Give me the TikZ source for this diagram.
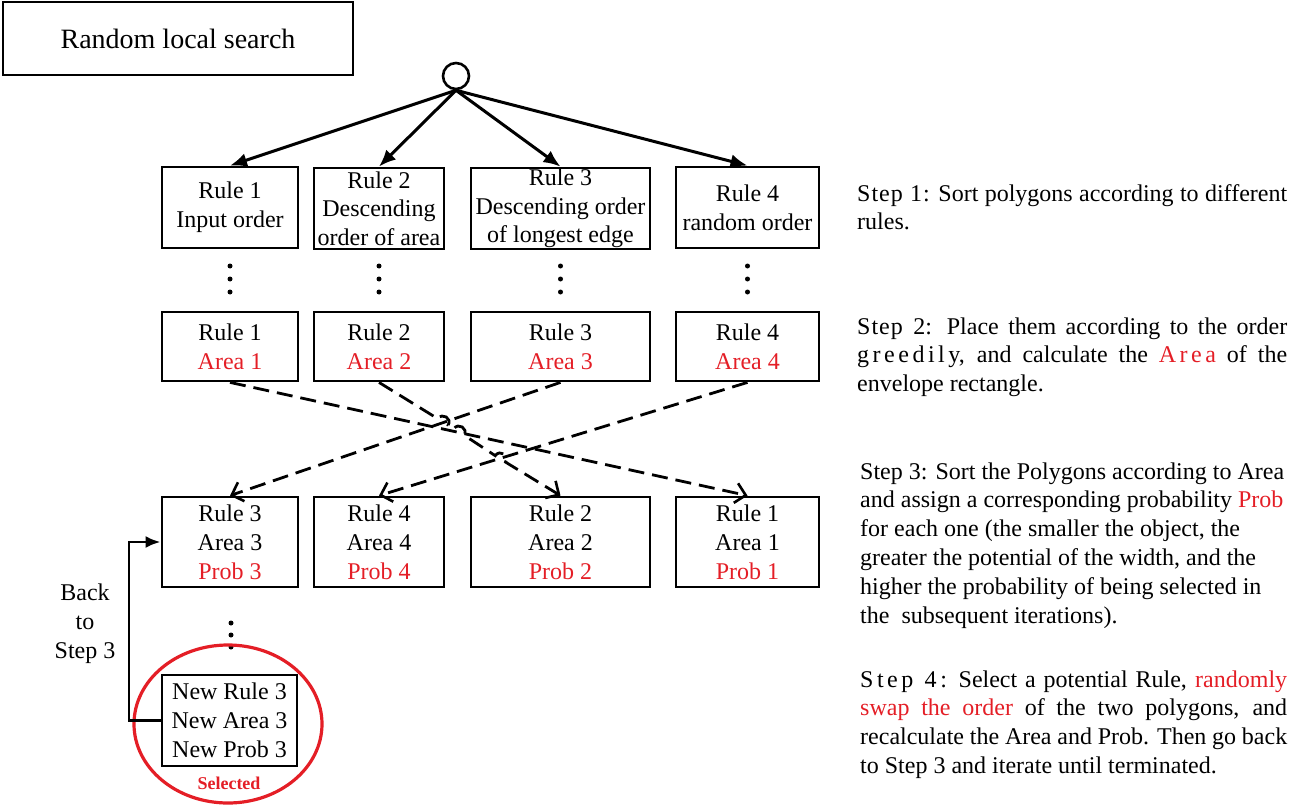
\documentclass[tikz,border=0pt]{standalone}
\usepackage{fontspec}
\setmainfont{Liberation Serif}
\usetikzlibrary{arrows.meta}
\definecolor{myred}{RGB}{228,30,38}
\newcommand{\rd}[1]{\textcolor{myred}{#1}}
\newcommand{\ls}{\kern3.5pt}
\begin{document}
\begin{tikzpicture}[x=1pt,y=-1pt,
  box/.style={draw, line width=2.8pt, inner sep=0pt, align=center, font=\fontsize{24}{29}\selectfont},
  row1/.style={box, minimum height=81pt},
  row2/.style={box, minimum height=69pt},
  row3/.style={box, minimum height=90pt},
  solidarrow/.style={line width=3pt, -{Latex[length=17pt,width=14pt]}},
  dasharrow/.style={line width=2.8pt, dash pattern=on 16pt off 8pt, -{Straight Barb[length=10pt,width=20pt,line width=2.6pt]}},
  dotmark/.style={fill=black},
  steptext/.style={anchor=base west, inner sep=0pt}
]
\useasboundingbox (0,0) rectangle (1306,805);

% title
\node[box, line width=2.4pt, minimum width=350pt, minimum height=73pt, font=\fontsize{28}{32}\selectfont] (title) at (178,38.5) {Random local search};

% root circle
\node[draw, circle, line width=2.6pt, minimum size=26pt, inner sep=0pt] (root) at (456,76) {};

% row 1
\node[row1, minimum width=136pt] (a1) at (230,207.5) {Rule 1\\Input order};
\node[row1, minimum width=130pt, font=\fontsize{24}{28.5}\selectfont] (b1) at (379,208.5) {Rule 2\\Descending\\order of area};
\node[row1, minimum width=179pt, font=\fontsize{24}{28.5}\selectfont] (c1) at (560.5,208.5) {Rule 3\\Descending order\\of longest edge};
\node[row1, minimum width=143pt] (d1) at (747.5,207.5) {Rule 4\\random order};

\draw[solidarrow] (root.south) -- (a1.north);
\draw[solidarrow] (root.south) -- (b1.north);
\draw[solidarrow] (root.south) -- (c1.north);
\draw[solidarrow] (root.south) -- (d1.north);

% dots
\foreach \x in {230,379,560.5,747.5}{
  \fill[dotmark] (\x,266) circle (2.5pt);
  \fill[dotmark] (\x,279) circle (2.5pt);
  \fill[dotmark] (\x,292) circle (2.5pt);
}

% row 2
\node[row2, minimum width=136pt] (a2) at (230,346.5) {Rule 1\\\rd{Area 1}};
\node[row2, minimum width=130pt] (b2) at (379,346.5) {Rule 2\\\rd{Area 2}};
\node[row2, minimum width=179pt] (c2) at (560.5,346.5) {Rule 3\\\rd{Area 3}};
\node[row2, minimum width=143pt] (d2) at (747.5,346.5) {Rule 4\\\rd{Area 4}};

% row 3
\node[row3, minimum width=136pt] (a3) at (230,542) {Rule 3\\Area 3\\\rd{Prob 3}};
\node[row3, minimum width=130pt] (b3) at (379,542) {Rule 4\\Area 4\\\rd{Prob 4}};
\node[row3, minimum width=179pt] (c3) at (560.5,542) {Rule 2\\Area 2\\\rd{Prob 2}};
\node[row3, minimum width=143pt] (d3) at (747.5,542) {Rule 1\\Area 1\\\rd{Prob 1}};

% dashed connectors
\draw[dasharrow] (a2.south) -- (d3.north);
\draw[dasharrow] (c2.south) -- (a3.north);
\draw[dasharrow] (d2.south) -- (b3.north);
\draw[dasharrow] (b2.south) -- (437.9,418.8) .. controls (442.2,412.1) and (452.4,418.5) .. (448.1,425.2)
  -- (453.9,428.8) .. controls (458.2,422.1) and (468.4,428.5) .. (464.1,435.2)
  -- (495.3,455.7) .. controls (499.6,449.0) and (509.8,455.4) .. (505.5,462.1)
  -- (c3.north);

% dots below
\fill[dotmark] (231,623) circle (2.5pt);
\fill[dotmark] (231,635) circle (2.5pt);
\fill[dotmark] (231,647) circle (2.5pt);

% new box
\node[box, minimum width=135pt, minimum height=91pt] (nb) at (229.5,720.5) {New Rule 3\\New Area 3\\New Prob 3};
\draw[myred, line width=3.2pt] (228,724) ellipse [x radius=94pt, y radius=79pt];
\node[text=myred, inner sep=0pt, font=\bfseries\fontsize{18}{20}\selectfont] (sel) at (229,783) {Selected};

% back arrow
\draw[line width=2.8pt, -{Latex[length=15pt,width=12pt]}] (nb.west) -- (129,720.5) |- (a3.west);
\node[align=center, inner sep=0pt, font=\fontsize{24}{29}\selectfont] (back) at (85,624) {Back\\to\\Step 3};

% step texts
\node[steptext] (s1) at (857,201) {\begin{minipage}[t]{430pt}\fontsize{24}{28.7}\selectfont
\hbox to 430pt{S\kern1pt t\kern1pt e\kern1pt p\kern1pt\ 1\kern1pt: Sort polygons according to different}
\hbox{rules.}
\end{minipage}};

\node[steptext] (s2) at (857,334) {\begin{minipage}[t]{430pt}\fontsize{24}{28.7}\selectfont
\hbox to 430pt{S\kern1pt t\kern1pt e\kern1pt p\kern1pt\ 2: Place them according to the order}
\hbox to 430pt{g\ls r\ls e\ls e\ls d\ls i\ls l\ls y, and calculate the \rd{A\ls r\ls e\ls a} of the}
\hbox{envelope rectangle.}
\end{minipage}};

\node[steptext] (s3) at (860,479) {\begin{minipage}[t]{430pt}\fontsize{24}{28.8}\selectfont
\hbox{Step 3: Sort the Polygons according to Area}
\hbox{and assign a corresponding probability \rd{Prob}}
\hbox{for each one (the smaller the object, the}
\hbox{greater the potential of the width, and the}
\hbox{higher the probability of being selected in}
\hbox{the\ \ subsequent iterations).}
\end{minipage}};

\node[steptext] (s4) at (860,687) {\begin{minipage}[t]{427pt}\fontsize{24}{28.7}\selectfont
\hbox to 427pt{S\ls t\ls e\ls p\ls\ 4\ls: Select a potential Rule, \rd{randomly}}
\hbox to 427pt{\rd{swap the order} of the two polygons, and}
\hbox to 427pt{recalculate the Area and Prob. Then go back}
\hbox{to Step 3 and iterate until terminated.}
\end{minipage}};

\end{tikzpicture}
\end{document}
